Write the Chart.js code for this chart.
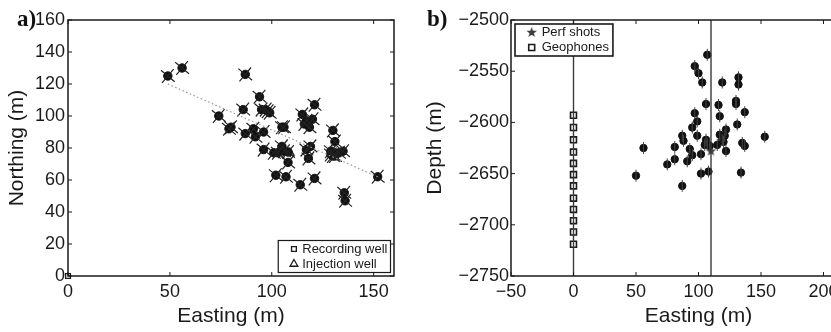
<!DOCTYPE html>
<html>
<head>
<meta charset="utf-8">
<script src="https://cdn.jsdelivr.net/npm/chart.js@4.4.1/dist/chart.umd.min.js"></script>
<style>
  html, body { margin: 0; padding: 0; background: #fff; }
  body { width: 831px; height: 332px; overflow: hidden; position: relative; }
  canvas { position: absolute; top: 0; }
  #map { left: 0; }
  #depth { left: 420px; }
  .panel { position: absolute; font: bold 23px 'Liberation Serif', 'Times New Roman', serif; color: #111; line-height: 23px; }
</style>
</head>
<body>
<canvas id="map" width="415" height="332"></canvas>
<canvas id="depth" width="486" height="332"></canvas>
<div class="panel" style="left:17px;top:7px">a)</div>
<div class="panel" style="left:427px;top:7px">b)</div>
<script>
/* ===== Event locations: map view (a) and depth view (b) ===== */

const INK = '#1a1a1a';
const FONT = "'Liberation Sans', Arial, Helvetica, sans-serif";

// (a) map view
const MAP_EASTING = [49, 56, 87, 94, 74, 86, 95, 97, 98, 99, 80, 79, 87, 91, 92, 96, 106, 105, 96, 101,
  103, 105, 106, 108, 108, 102, 107, 114, 115, 121, 117, 116, 120, 118.5, 117, 119, 118, 121, 130, 131,
  129, 130, 131, 133, 135, 135.6, 136, 152, 129];
const MAP_NORTHING = [125, 130, 126, 112, 100, 104, 104, 104, 103, 102, 93, 92, 89, 92, 87, 90, 93, 93, 79, 77,
  77, 81, 78, 77.5, 71, 63, 62, 57, 101, 107, 97, 95, 98, 93, 79, 81, 73.5, 61, 91, 84,
  78, 75, 75, 77, 78, 52, 47, 62, 76];
const TREND_EASTING = [49, 152];
const TREND_NORTHING = [120, 62];
const RECORDING_WELL = [{ x: 0, y: 0 }];
const INJECTION_WELL = [{ x: 109, y: 77 }];
const MAP_X_TICKS = [0, 50, 100, 150];
const MAP_Y_TICKS = [0, 20, 40, 60, 80, 100, 120, 140, 160];

// (b) depth view
const DEPTH_EASTING = [107, 97, 100, 103, 119, 132, 132, 106, 116, 130, 130, 137, 97, 117, 99, 95, 131, 122, 87, 99,
  117, 121, 119, 88, 106, 107, 105, 109, 115, 120, 153, 135, 137, 56, 81, 93, 122, 95, 102, 81,
  91, 75, 50, 102, 108, 134, 87];
const DEPTH_VALUES = [-2534, -2545, -2552, -2561, -2561, -2556, -2563, -2582, -2583, -2579, -2582, -2590, -2591, -2594, -2599, -2605, -2602, -2607, -2613, -2613,
  -2612, -2613, -2617, -2618, -2617, -2621, -2622, -2623, -2622, -2619, -2614, -2620, -2623, -2625, -2624, -2626, -2628, -2632, -2631, -2636,
  -2638, -2641, -2652, -2650, -2648, -2649, -2662];
const PERF_SHOT = [{ x: 110, y: -2628 }];
const GEOPHONE_EASTING = 0;
const GEOPHONE_DEPTHS = [-2593, -2605, -2617, -2629, -2640, -2651, -2662, -2674, -2685, -2696, -2707, -2719];
const WELL_EASTINGS = [0, 110];
const DEPTH_X_TICKS = [-50, 0, 50, 100, 150, 200, 250];
const DEPTH_Y_TICKS = [-2750, -2700, -2650, -2600, -2550, -2500];

/* ---------- helpers ---------- */

const zip = (xs, ys) => xs.map((x, i) => ({ x, y: ys[i] }));
const fmt = v => String(v).replace('-', '\u2212');

function starImage(r, color) {
  const c = document.createElement('canvas');
  const s = Math.ceil(r * 2 + 2);
  c.width = c.height = s;
  const g = c.getContext('2d');
  g.beginPath();
  for (let i = 0; i < 10; i++) {
    const rad = i % 2 ? r * 0.42 : r;
    const a = -Math.PI / 2 + i * Math.PI / 5;
    g.lineTo(s / 2 + rad * Math.cos(a), s / 2 + rad * Math.sin(a));
  }
  g.closePath();
  g.fillStyle = color;
  g.fill();
  return c;
}

function scaleOpts(min, max, tickValues, title, isX, fitSize, tickPad, titlePad) {
  return {
    type: 'linear',
    min, max,
    grid: { display: false, drawTicks: false },
    border: { display: false },
    afterBuildTicks: s => { s.ticks = tickValues.map(v => ({ value: v })); },
    afterFit: s => {
      if (isX) s.height = fitSize; else s.width = fitSize;
      s.paddingLeft = s.paddingRight = s.paddingTop = s.paddingBottom = 0;
    },
    ticks: {
      padding: tickPad, color: INK, autoSkip: false, maxRotation: 0,
      font: { family: FONT, size: 18 },
      callback: v => fmt(v),
    },
    title: {
      display: true, text: title, color: INK, padding: titlePad,
      font: { family: FONT, size: 21 },
    },
  };
}

// box round the plot with inward tick marks on all four sides
const framePlugin = {
  id: 'frame',
  afterDatasetsDraw(chart) {
    const { ctx, chartArea: a, scales } = chart;
    ctx.save();
    ctx.strokeStyle = INK;
    ctx.lineWidth = 1.5;
    ctx.strokeRect(a.left, a.top, a.right - a.left, a.bottom - a.top);
    ctx.lineWidth = 1;
    ctx.beginPath();
    scales.x.ticks.forEach(t => {
      const px = scales.x.getPixelForValue(t.value);
      ctx.moveTo(px, a.bottom); ctx.lineTo(px, a.bottom - 4);
      ctx.moveTo(px, a.top); ctx.lineTo(px, a.top + 4);
    });
    scales.y.ticks.forEach(t => {
      const py = scales.y.getPixelForValue(t.value);
      ctx.moveTo(a.left, py); ctx.lineTo(a.left + 4, py);
      ctx.moveTo(a.right, py); ctx.lineTo(a.right - 4, py);
    });
    ctx.stroke();
    ctx.restore();
  },
};

function boxLegend(cfg) {
  return {
    id: 'boxLegend',
    afterDraw(chart) {
      const { ctx, chartArea: a } = chart;
      ctx.save();
      ctx.font = '13px ' + FONT;
      const items = cfg.datasets.map(i => chart.data.datasets[i]);
      const textW = Math.max(...items.map(ds => ctx.measureText(ds.label).width));
      const w = cfg.textInset + textW + cfg.padRight;
      const h = cfg.rowH * items.length + cfg.padY * 2;
      const x0 = cfg.corner === 'br' ? a.right - cfg.margin - w : a.left + cfg.margin;
      const y0 = cfg.corner === 'br' ? a.bottom - cfg.margin - h : a.top + cfg.margin;
      ctx.fillStyle = '#fff';
      ctx.fillRect(x0, y0, w, h);
      ctx.lineWidth = cfg.lineWidth;
      ctx.strokeStyle = INK;
      ctx.strokeRect(x0, y0, w, h);
      items.forEach((ds, i) => {
        const cy = y0 + cfg.padY + cfg.rowH * (i + 0.5);
        ctx.fillStyle = ds.backgroundColor;
        ctx.strokeStyle = ds.borderColor;
        ctx.lineWidth = ds.borderWidth;
        Chart.helpers.drawPoint(ctx, {
          pointStyle: ds.pointStyle, radius: ds.pointRadius, rotation: 0, borderWidth: ds.borderWidth,
        }, x0 + cfg.markerInset, cy);
        ctx.fillStyle = INK;
        ctx.textBaseline = 'middle';
        ctx.textAlign = 'left';
        ctx.fillText(ds.label, x0 + cfg.textInset, cy);
      });
      ctx.restore();
    },
  };
}

const baseOptions = {
  responsive: false,
  animation: false,
  events: [],
  plugins: { legend: { display: false }, tooltip: { enabled: false } },
};

/* ---------- (a) map view ---------- */

const mapEvents = zip(MAP_EASTING, MAP_NORTHING);

new Chart(document.getElementById('map'), {
  type: 'scatter',
  data: {
    datasets: [
      {
        label: 'trend',
        data: zip(TREND_EASTING, TREND_NORTHING),
        showLine: true, pointRadius: 0,
        borderColor: '#9a9a9a', borderWidth: 1.2, borderDash: [1.5, 2.5],
      },
      {
        label: 'errors',
        data: mapEvents,
        pointStyle: 'cross', pointRotation: 40, pointRadius: 9,
        borderColor: '#222', borderWidth: 1.2,
      },
      {
        label: 'events',
        data: mapEvents,
        pointStyle: 'circle', pointRadius: 4.2,
        backgroundColor: '#111', borderColor: '#111', borderWidth: 1,
      },
      {
        label: 'Recording well',
        data: RECORDING_WELL,
        pointStyle: 'rect', pointRadius: 3.4,
        backgroundColor: '#fff', borderColor: INK, borderWidth: 1.3, clip: false,
      },
      {
        label: 'Injection well',
        data: INJECTION_WELL,
        pointStyle: 'triangle', pointRadius: 4.5,
        backgroundColor: 'rgba(255,255,255,0)', borderColor: INK, borderWidth: 1.3, clip: false,
      },
    ],
  },
  options: {
    ...baseOptions,
    layout: { padding: { left: 0, top: 20, right: 21, bottom: 0 } },
    scales: {
      x: scaleOpts(0, 160, MAP_X_TICKS, 'Easting (m)', true, 56, 5, { top: 0, bottom: 3 }),
      y: scaleOpts(0, 160, MAP_Y_TICKS, 'Northing (m)', false, 68, 3, { top: 5, bottom: 0 }),
    },
  },
  plugins: [framePlugin, boxLegend({
    datasets: [3, 4], corner: 'br', margin: 3.5, rowH: 15, padY: 1,
    markerInset: 15.7, textInset: 24, padRight: 3, lineWidth: 1.2,
  })],
});

/* ---------- (b) depth view ---------- */

const depthEvents = zip(DEPTH_EASTING, DEPTH_VALUES);
const wellLines = WELL_EASTINGS.map(x => ({
  label: 'well',
  data: [{ x, y: DEPTH_Y_TICKS[0] }, { x, y: DEPTH_Y_TICKS[DEPTH_Y_TICKS.length - 1] }],
  showLine: true, pointRadius: 0,
  borderColor: '#3a3a3a', borderWidth: 1.4,
}));

new Chart(document.getElementById('depth'), {
  type: 'scatter',
  data: {
    datasets: [
      ...wellLines,
      {
        label: 'Geophones',
        data: GEOPHONE_DEPTHS.map(y => ({ x: GEOPHONE_EASTING, y })),
        pointStyle: 'rect', pointRadius: 4.2,
        backgroundColor: '#fff', borderColor: INK, borderWidth: 1.6,
      },
      {
        label: 'errors',
        data: depthEvents,
        pointStyle: 'line', pointRotation: 90, pointRadius: 6,
        borderColor: '#444', borderWidth: 1,
      },
      {
        label: 'events',
        data: depthEvents,
        pointStyle: 'circle', pointRadius: 3.7,
        backgroundColor: '#111', borderColor: '#111', borderWidth: 1,
      },
      {
        label: 'Perf shots',
        data: PERF_SHOT,
        pointStyle: starImage(5.5, '#3a3a3a'), pointRadius: 5,
        backgroundColor: '#333', borderColor: '#333', borderWidth: 1,
      },
    ],
  },
  options: {
    ...baseOptions,
    layout: { padding: { left: 0, top: 20, right: 20, bottom: 0 } },
    scales: {
      x: scaleOpts(-50, 250, DEPTH_X_TICKS, 'Easting (m)', true, 56, 5, { top: 0, bottom: 3 }),
      y: scaleOpts(-2750, -2500, DEPTH_Y_TICKS, 'Depth (m)', false, 91, 2, { top: 3, bottom: 0 }),
    },
  },
  plugins: [framePlugin, boxLegend({
    datasets: [5, 2], corner: 'tl', margin: 4, rowH: 15, padY: 1,
    markerInset: 16.7, textInset: 26.7, padRight: 4, lineWidth: 1.6,
  })],
});
</script>
</body>
</html>
